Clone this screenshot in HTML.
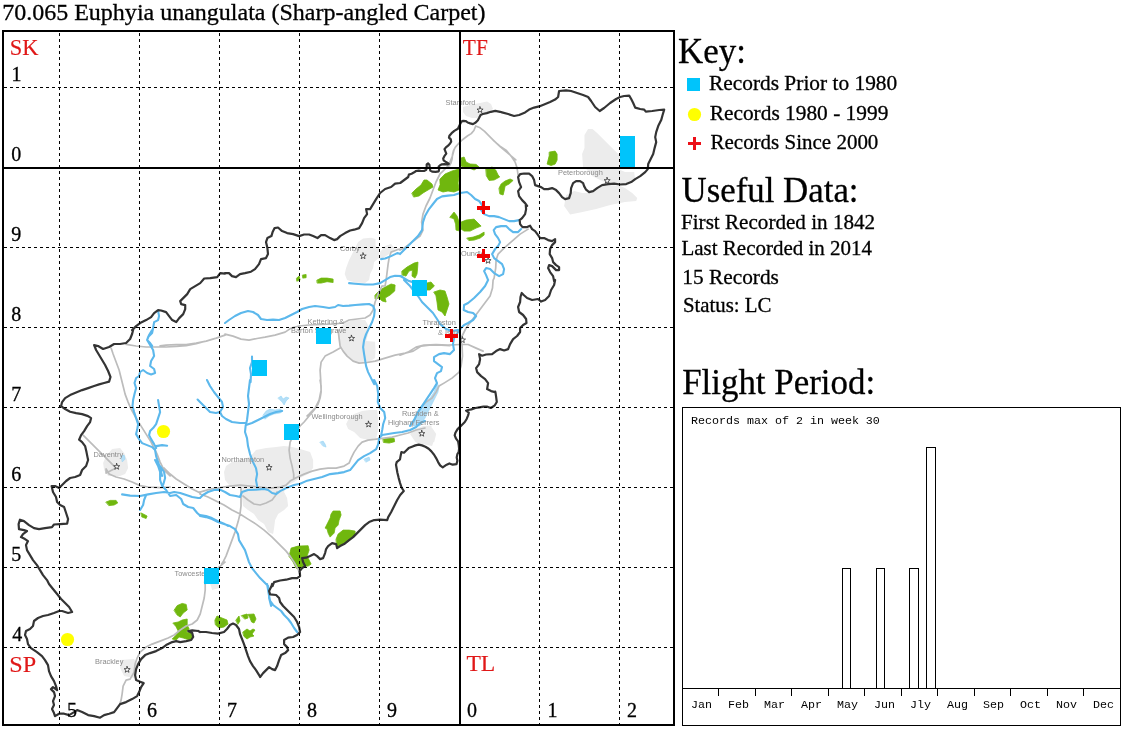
<!DOCTYPE html>
<html>
<head>
<meta charset="utf-8">
<title>70.065 Euphyia unangulata (Sharp-angled Carpet)</title>
<style>
html,body{margin:0;padding:0;background:#fff;}
body{width:1124px;height:730px;overflow:hidden;}
svg{display:block;position:absolute;left:0;top:0;}
text{white-space:pre;}
</style>
</head>
<body>
<svg width="1124" height="730" viewBox="0 0 1124 730">
<rect width="1124" height="730" fill="#fff"/>
<g id="geo" fill="none" stroke-linejoin="round" stroke-linecap="round">
<path fill="#ececec" stroke="none" d="M463 107 L470 105 L480 103 L487 101.6 L491 104 L493 109 L488 112 L482 115 L478 118.1 L472 118.1 L466 116 L463 112.0ZM584.5 135.1 L588.1 129.1 L592.5 129.1 L597.1 133.1 L602.1 138.1 L608.1 144.1 L614.1 150.1 L620.1 155.7 L620.1 167.7 L583.1 167.7 L582.1 154.1 L584.5 148.1ZM346.1 268.1 L349.1 260.1 L353.1 252.1 L358.1 242.1 L363.1 238.5 L371.1 237.7 L375.5 239.1 L375.5 246.1 L379.1 249.1 L379.1 258.1 L374.1 262.1 L373.1 268.1 L370.1 274.1 L369.1 280.1 L365.1 283.1 L355.1 282.5 L347.1 280.1 L344.7 274.1ZM380.1 252.1 L385.1 246.1 L391.1 244.1 L395.1 249.1 L389.1 254.1 L383.1 258.1 L380.1 258.1ZM566.1 195 L574.2 191 L582.2 193 L590.2 193 L600.2 187 L608.2 185 L620.2 186 L625 188 L632.2 193 L637.2 198 L636.2 201 L625 202 L610.2 205 L596.2 209.1 L580.2 212.5 L570.1 214.5 L564.1 206.0ZM586.2 169 L618.2 169 L625 172 L634.2 172 L635.2 180 L625 184 L608.2 184 L600.2 180 L592.2 176.0ZM339.1 328.1 L345.1 323 L353.1 320 L365.1 320 L369.1 327.1 L368.1 334.1 L366.1 341.1 L375.1 341.7 L375.5 350.1 L375.1 358.1 L369.1 362.1 L359.1 363.1 L351.1 360.1 L345.1 354.1 L341.1 348.1 L338.1 338.1ZM103.1 463.1 L106.1 456.1 L112.1 449.1 L120.1 448.1 L124.1 453.1 L127.1 460.1 L128.1 468.1 L125.1 474.1 L120.1 475.9 L108.1 475.9 L104.1 470.1ZM210.2 584.1 L218.2 583.1 L219.2 588.1 L212.2 590.1ZM120.1 660.1 L134.1 659.1 L137.1 664.1 L136.1 670.1 L134.1 678.1 L124.1 676.1 L120.1 668.1ZM224 472 L226 466 L232 462 L240 460 L312.1 460 L313.1 468 L308.1 474 L300.1 478 L294.1 482 L286.1 486 L284.1 492 L287.1 498 L288.1 506 L284.1 510 L278.1 514 L275.1 520.1 L274.1 528.1 L273.1 534.1 L268.1 532.1 L264.1 524.1 L258.1 520.1 L254 514 L248 510 L243 506 L242 498 L240 488 L230 486 L225 480.0ZM224 472.1 L226 466.1 L232 462.1 L240 460.1 L250 457.1 L256 450.1 L266.1 448.1 L276.1 447.1 L284.1 446.1 L292.1 447.1 L300.1 449.1 L310.1 452.1 L313.1 460.1 L313.1 468.1 L308.1 474.1 L300.1 478.1 L294.1 482.1 L286.1 486.1 L284.1 492.1 L260.1 492.1 L240 488.1 L230 486.1 L225 480.1ZM346.1 424 L349.1 418 L354.1 414 L362.1 411 L370.1 410 L377.2 410 L378.2 420 L378.2 430 L376.2 438.1 L368.1 440.1 L360.1 438.1 L354.1 432 L348.1 429.0ZM416.2 436 L419.2 430 L425 427 L432.2 428 L436.2 434 L434.2 442.1 L425 444.1 L418.2 442.1ZM410 434 L415.4 428.7 L423.4 426 L431.4 425.4 L432.7 434 L433.4 442 L432.1 446.1 L426.1 444.7 L419.4 444.1 L415.4 442.0Z"/>
<path fill="#b4dff8" stroke="#8fd0f3" stroke-width="0.5" d="M437 384.1 L434 392.1 L430 398.1 L424 404.1 L419 410.1 L415 420.1 L412 425.9 L420 425.9 L425 418.1 L430 408.1 L434 400.1 L438 392.1 L439 386.1ZM121.1 456.1 L124.1 455.1 L125.1 459.1 L122.5 461.7ZM263.1 415 L266.1 411 L270.1 409 L275.1 410 L280.1 409 L283.1 411 L280.1 413 L274.1 414 L269.1 416 L265.1 419.0ZM278.1 398 L281.1 396 L283.1 399 L286.1 397 L289.1 398 L286.1 401 L284.1 405 L282.1 402.0ZM320.1 442.1 L323.1 441.1 L325.1 444.1 L326.1 447.1 L323.1 446.1ZM364.1 459.1 L369.1 457.1 L370.1 460.1 L366.1 462.1Z"/>
<path fill="#70b70e" stroke="#70b70e" stroke-width="0.8" d="M549.5 152.1 L555.1 151.1 L557.1 154.1 L557.1 160.1 L555.1 164.1 L551.1 165.5 L547.1 164.1 L548.1 160.1 L549.1 156.1ZM317.1 280.1 L321.1 278.1 L327.1 278.1 L333.1 279.1 L333.1 282.5 L327.1 281.7 L321.1 283.1 L317.5 283.1ZM296.7 278.1 L299.1 276.1 L300.1 280.1 L297.1 281.1ZM302.7 275.1 L306.1 274.5 L306.1 277.7 L303.1 278.1ZM461.1 158 L464.1 157 L466.1 162 L470.1 164 L476.1 164.4 L479.1 167 L474.1 170 L469.1 168 L464.1 167 L461.1 166.0ZM486.1 169 L492.1 167 L495.7 170 L498.1 175 L499.7 177 L494.1 180 L489.1 180.4 L486.5 176.0ZM499.1 188 L501.1 184 L505.1 181 L510.1 179 L513.1 180.4 L509.1 184 L505.1 186 L504.1 191 L503.1 195 L500.1 194.0ZM440 179 L445 174 L452 171 L459.1 169 L459.1 176 L458.1 183 L459.1 190 L454 192 L448 191 L443 192 L438 190 L440 185.0ZM412 193 L416 189 L421 185 L424 180 L427 180 L432 184 L433 187 L428 190 L423 193 L419 196 L414 197.0ZM450 217.1 L454 212.1 L457.1 216.1 L459.1 222.1 L460.1 226.1 L460.1 231.1 L456 230.1 L455.6 224.1 L454 219.1ZM461.1 222.1 L466.1 220.1 L474.1 219.1 L477.1 222.1 L481.1 226.1 L476.1 228.1 L470.1 231.1 L464.1 231.1 L461.1 229.1ZM467.1 238.1 L473.1 237.1 L479.1 235.1 L484.1 232.1 L484.1 235.1 L480.1 238.1 L474.1 240.1 L469.1 240.5ZM402 271.1 L407 267.1 L414 263.1 L418 262.1 L417.6 268.1 L417 274.1 L415 278.1 L412 276.1 L412.4 270.1 L409 271.1 L406 276.1 L402.4 275.1ZM427 283 L431 282 L434.4 286 L430 290 L427 290.0ZM434 292 L440 290 L445 291 L447 297 L449 304 L447 310 L445 316 L442 312 L438 310 L437 302 L436 296.0ZM375.1 295 L380.1 290 L385.1 287 L391.1 284 L395.1 285 L394.7 291 L390.1 295 L385.1 298 L386.1 302 L382.1 301 L379.1 298 L375.5 299.0ZM106.1 502 L110.1 500.4 L116.1 500.4 L117.7 503 L114.1 505 L109.1 505.6ZM141.1 513 L144.1 514.4 L147.1 516 L146.1 518.5 L142.1 517.1ZM174.2 610 L177.2 605.6 L182.2 603.4 L186.2 604.4 L187.2 610 L183.2 613 L180.2 617 L177.2 615.0ZM173.2 623 L178.2 622 L182.2 620 L187.2 619 L187.2 625 L189.2 629 L186.2 632 L191.2 633 L193.2 637 L191.2 640 L186.2 639 L183.2 638 L179.2 637 L176.2 640 L172.2 639 L176.2 635 L178.2 631 L176.2 627.0ZM215 620 L217 616 L222 618 L227 620 L228 624 L224 627 L219 628 L215.6 625.0ZM236 620 L239 616 L240 621 L238 624.0ZM241.6 615.6 L247 614 L248 618 L245 619.0ZM248 614.4 L254 614 L256 619 L254 623 L251.6 622 L250 618.0ZM243 632 L247 629 L250 631 L253 629 L255 630 L252 634 L254 636 L250 637 L247 639 L244 636.4ZM331.1 514 L333.1 511 L340.1 511 L341.1 515 L339.1 520.1 L338.1 525.1 L335.1 528.1 L334.1 533.1 L330.1 537.1 L328.1 533.1 L327.1 529.1 L325.1 528.1 L328.1 522.1 L330.1 518.1ZM336.1 539.1 L338.1 534.1 L343.1 530.1 L349.1 530.1 L355.1 531.1 L355.1 535.1 L351.1 539.1 L347.1 542.1 L343.1 544.1 L340.1 546.1 L337.1 547.1ZM289.1 556.1 L291.1 548.1 L298.1 546.1 L308.1 545.7 L309.1 550.1 L307.1 556.1 L309.1 560.1 L311.1 564.1 L308.1 566.1 L304.1 566.1 L300.1 569.1 L296.1 568.1 L293.1 562.1ZM383.2 439.1 L388.2 437.7 L394.2 438.5 L394.6 441.7 L389.2 443.1 L383.8 442.5Z"/>
<path stroke="#bcbcbc" stroke-width="1.7" d="M493 140.1 L500 146.1 L506 150.1 L511.1 156.1 L515.1 162.1 L517.1 168.1 L518.1 175.1M400.2 249.1 L397.2 249.7 L391.1 252.1 L389.1 258.1 L388.1 264.1 L387.1 272.1 L386.1 280.1 L385.1 285.9M454 150 L452.4 156 L450 162 L447 167 L440 174 L436 182 L433 190 L430 198 L426 206 L423 214.1 L421.6 222.1 L423 230.1 L420 236.1 L412 242.1 L404 248.1 L400 250.1M528.1 229.1 L520.1 234.1 L512.1 241.1 L504.1 248.1 L498.1 254.1 L496.1 260.1 L495.7 268.1 L494.1 278.1 L493.1 280.1M493.1 280 L492.5 288 L490.1 296 L484.1 304 L478.1 312 L472.1 320 L466.1 328 L462.1 336 L460.1 340.1M400 355.1 L408 352.1 L416 347.1 L424 345.1 L436 344.5 L448 345.1 L460.1 344.5 L468.1 344.5 L476.1 348.1 L483.1 351.1M461.1 340.1 L462.1 346.1 L462.5 356.1 L461.1 366.1 L459.1 372.1 L452 378.1 L444 383.1 L439 386.1 L436 392.1 L432 398.1 L426 402.1 L420 408.1 L416 416.1 L412 425.9M225 334.1 L233 336.1 L241 339.1 L249 340.1 L257 338.5 L265 337.1 L275 335.1 L285.1 332.1 L291.1 328.1 L299.1 326 L309.1 325 L321.1 324.4 L333.1 324 L343.1 323 L349.1 320 L357.1 319 L365.1 318 L370.1 315 L373.1 310 L375.1 302 L378.1 294 L382.1 286.0M338.1 330.1 L339.1 338.1 L340.1 346.1 L343.1 351.1 L347.1 356.1 L353.1 361.1 L359.1 363.1 L367.1 362.5 L375.1 361.1 L385.1 358.1 L395.1 355.1 L405.2 353.1 L413.2 351.1 L421.2 346.1 L429.2 345.1 L441.2 345.1 L450 345.7M340.1 348.1 L333.1 352.1 L325.1 356.1 L321.1 362.1 L320.1 370.1 L320.7 380.1 L321.1 390.1 L319.1 400.1 L315.1 408.1 L309.1 414.1 L307.1 415.9M225 335.1 L216.2 338.1 L206.2 341.1 L196.2 343.1 L186.2 344.5 L176.2 344.5 L166.1 345.1 L160.1 345.9M225 335 L216.2 338 L206.2 341 L196.2 343.6 L186.2 345.6 L176.2 346.4 L166.1 347 L156.1 347 L146.1 347 L136.1 346 L126.1 344.4M111.1 348 L113.1 354 L116.1 362 L119.1 370 L121.1 378 L123.1 386 L125.1 394.1 L128.1 402.1 L131.1 409.1 L136.1 418.1 L141.1 426.1 L146.1 434.1 L151.1 442.1 L154.1 448.1 L157.1 454.1 L160.1 462.1 L164.1 470.1 L170.1 475.9M83.1 435.1 L88.1 440.1 L94.1 446.1 L100.1 452.1 L106.1 458.1 L112.1 464.1 L116.1 468.1 L112.1 470.1 L106.1 473.1M106.1 469 L109.1 474 L116.1 477 L124.1 479 L132.1 482 L140.1 485.6 L148.1 487 L160.1 487.6 L170.1 487.0M164.1 468 L170.1 474 L176.2 479 L184.2 484 L192.2 489 L200.2 493.0M225 562.1 L220.2 566.1 L212.2 572.1 L206.2 578.1 L204.6 582.1 L205.2 585.1M205.2 584 L205.2 590 L204.2 598 L202.2 606 L200.2 614 L197.2 620 L192.2 624 L186.2 626 L180.2 630 L174.2 635 L168.1 638 L160.1 641.1 L152.1 644.1 L146.1 647.1 L140.1 652.1 L137.1 658.1 L135.1 664.1 L134.1 672.1 L130.1 679.1 L126.1 680.1 L123.1 686.1 L122.1 694.1 L121.1 700.1 L119.7 704.1M200 494 L208 497 L216 501 L224 505 L232 510 L240 514 L248 519.1 L256 524.1 L264.1 530.1 L272.1 537.1 L280.1 545.1 L286.1 551.1 L290.1 556.1 L294.1 562.1 L298.1 569.1 L300.1 575.1M241 488 L241 496 L241 506 L240 514 L238 522.1 L235 532.1 L232 540.1 L229 548.1 L226 556.1 L223 562.1 L221.6 564.1M243 496 L248 500 L254 504 L260.1 505 L266.1 503 L272.1 500 L275.1 496 L277.1 492.0M320.1 380 L321.1 386 L321.1 392 L320.1 398 L318.1 404 L314.1 410 L309.1 416 L304.1 422 L300.1 426 L294.1 434 L290.1 442.1 L289.1 450.1 L290.1 458.1 L292.1 466.1 L293.7 474.1 L293.7 478.1M425 428 L416.2 430 L408.2 433 L400.2 435 L392.2 437.1 L384.2 438.1 L376.2 439.1 L368.1 440.1 L362.1 442.1 L358.1 446.1 L354.1 452.1 L351.1 458.1 L349.1 463.1 L344.1 466.1 L336.1 468.1 L328.1 468.1 L320.1 469.1 L312.1 471.1 L304.1 474.1 L296.1 477.7 L290.1 481.1 L286.1 485.1 L280.1 487.1 L270.1 488.1 L260.1 487.1 L250 486.1 L240 485.1 L230 486.1 L220 487.7 L210 489.1 L200 492.1M475.7 126 L473.9 130.5 L471.2 133.6 L467.7 135.8 L464.1 138.5 L461.4 140.7 L457.9 144.3 L455.2 147.4 L453.4 151 L452.5 154.5 L452.1 159 L450.8 163.4 L449.4 165.7 L447 167 L442.7 171.4 L440 173.9M475.7 126 L480.1 127.8 L484.6 131.4 L489 135.8 L493.5 140.3 L498 144.7 L500.1 146.5 L515.8 159.9M400.2 249.1 L400 250.1M385.1 285.9 L382.1 286.0M493.1 280.1 L493.1 280.0M460.1 340.1 L461.1 340.1M225 334.1 L225 335.1M225 334.1 L225 335.0M225 335.1 L225 335.0M106.1 473.1 L106.1 469.0M200.2 493 L200 494.0M200.2 493 L200 492.1M225 562.1 L221.6 564.1M205.2 585.1 L205.2 584.0M200 494 L200 492.1"/>
<path stroke="#5cb8ec" stroke-width="2.1" d="M400.2 253.7 L397.2 253.1 L391.1 256.1 L385.1 258.5 L381.1 259.1M349.1 283.1 L355.1 283.7 L365.1 284.5 L373.1 284.5 L380.1 283.1 L385.1 280.1 L390.1 277.1 L395.1 275.7 L401.2 276.1 L405.2 279.1 L409.2 281.1 L413.2 282.1M400 254.1 L406 248.1 L412 242.1 L418 236.1 L422 230.1 L423 222.1 L425 216.1 L429 209.1 L433 204 L437 199 L442 196.4 L448 195.6 L454 195 L460.1 193 L467.1 192 L471.1 195 L475.1 199 L479.1 201 L482.1 205 L481.1 210.1 L484.1 214.1 L489.1 216.1 L494.1 216.1 L499.1 217.1 L504.1 219.1 L509.1 221.1 L514.1 221.1 L519.1 220.1M521.1 229.1 L518.1 232.1 L513.1 232.1 L509.1 229.1 L506.1 226.1 L501.1 226.1 L496.1 227.1 L493.7 230.1 L495.1 234.1 L498.1 238.1 L500.1 242.1 L498.1 246.1 L495.1 249.1 L492.1 254.1 L494.1 258.1 L498.1 261.1 L502.1 264.1 L504.1 269.1 L503.1 274.1 L499.1 276.1 L494.1 273.1 L490.1 269.1 L486.1 268.1 L484.1 271.1 L486.1 275.1 L488.1 280.1M400 276.1 L404 278.1 L409 281.1 L412 282.1M488.1 280 L485.1 286 L480.1 292 L474.1 298 L468.1 303 L464.1 305 L463.7 310 L468.1 312 L473.1 313 L476.1 316 L473.1 320 L468.1 323 L464.1 325 L461.1 328 L458.1 332 L454 338.1 L453 344.1 L454 350.1 L450 354.1 L444 353.1 L439 354.1 L434 357.1 L434 361.1 L438 364.1 L442 367.1 L441 371.1 L437 373.1 L435 378.1 L437 383.1 L434 388.1 L430 394.1 L426 400.1 L422 406.1 L418 412.1 L414 420.1 L410 425.9M404 280 L410 286 L418 296 L422 302 L428 308 L433 313 L437 319 L440 324 L446 329 L452 331 L458.1 330.0M225 323 L229 320 L235 316 L241 313 L248 311 L253 312 L258 315 L261 319 L267 320 L273 319.6 L279 320 L285.1 318 L291.1 315 L297.1 312 L302.1 309 L309.1 307 L315.1 306 L323.1 307 L329.1 308 L335.1 307 L338.1 305 L343.1 306 L349.1 305.6 L355.1 305 L363.1 304.4 L369.1 304 L373.1 306 L374.7 310 L374.1 316 L372.1 322 L369.1 328.1 L366.1 334.1 L364.1 340.1 L363.1 347.1 L364.1 354.1 L365.1 360.1 L366.1 366.1 L368.1 372.1 L371.1 378.1 L374.1 384.1M252 356.5 L252 362.1 L250 368.1 L251 374.1 L250.6 382.1M158.1 311.1 L159.1 316.1 L158.1 320.1 L154.1 322.1 L153.1 328.1 L152.1 333.1 L148.1 337.1 L147.1 340.1 L150.1 343.1 L152.1 345.9M152.1 330 L149.1 335 L147.1 340 L150.1 345 L153.1 350 L154.1 356 L151.1 361 L150.1 366 L154.1 369 L155.1 373 L151.1 374.4 L147.1 373 L143.1 370 L140.1 372 L139.1 376 L136.1 378 L134.5 383 L136.1 388.1 L134.5 394.1 L133.1 400.1 L132.5 406.1 L134.1 412.1 L136.1 418.1 L138.1 424.1 L137.1 430.1 L136.1 434.1 L139.1 439.1 L142.1 443.1 L147.1 445.1 L152.1 447.1 L155.1 450.1 L156.1 456.1 L158.1 462.1 L160.1 468.1 L162.1 475.9M158.1 400.1 L159.1 406.1 L160.1 412.1 L158.1 418.1 L156.1 424.1 L153.1 428.1 L150.1 431.1 L149.1 435.1 L151.1 439.1 L154.1 444.1 L156.1 448.1M156.1 446.1 L162.1 445.1 L167.1 445.7M122.1 494.4 L130.1 495.6 L140.1 496 L148.1 494.4 L156.1 493 L164.1 492 L170.1 493 L174.2 492 L180.2 493 L186.2 495 L192.2 497 L198.2 498 L200.2 498.0M166.1 490 L170.1 496 L176.2 495 L181.2 499 L183.2 504 L188.2 507 L193.2 508 L197.2 513 L200.2 515.6M146.1 495 L144.1 500 L143.1 505 L140.1 510.0M155.1 460 L158.1 466 L160.1 472 L160.1 480 L162.1 486 L166.1 490.0M160.1 466 L164.1 472 L165.1 478 L163.1 485.0M267.1 584 L268.1 590 L269.1 596 L270.1 601 L273.1 605 L277.1 608 L281.1 611 L284.1 615 L288.1 619 L291.1 623 L294.1 628 L297.1 632.0M200 498 L203 495 L208 492 L214 490 L220 489.6 L225 492 L230 495 L236 496 L240 497 L242 492 L248 490 L256 489.6 L264.1 489 L268.1 490 L272.1 493 L276.1 494.0M200 516 L206 517.1 L212 519.1 L218 522.1 L224 524.1 L230 526.1 L235 529.1 L238 534.1 L239 540.1 L242 545.1 L245 550.1 L247 556.1 L249 562.1 L252 568.1 L256 573.1 L260.1 578.1 L264.1 582.1 L268.1 586.1 L269.1 592.1 L269.1 598.1 L271.1 605.9M425 421 L420.2 423 L416.2 427 L410.2 430 L402.2 432 L394.2 433 L388.2 434 L382.2 435 L379.2 438.1 L378.2 444.1 L376.2 449.1 L370.1 453.1 L364.1 456.1 L358.1 460.1 L354.1 465.1 L350.1 470.1 L344.1 472.1 L338.1 473.1 L330.1 474.1 L322.1 477.1 L314.1 479.1 L306.1 481.1 L300.1 483.7 L294.1 485.1 L286.1 488.1 L280.1 491.1 L276.1 494.1M374.2 380 L377.2 386 L378.2 394 L377.8 402 L380.2 408 L384.2 412 L385.2 418 L383.2 424 L382.2 430 L381.2 435.0M250 380 L249 388 L248 396 L249 404 L248 412 L247 420 L245.6 426 L245 432 L247 438.1 L248 446.1 L250 454.1 L253 462.1 L256 468.1 L257.1 474.1 L256 480.1 L257.1 486.1M197.6 399.6 L200 402 L206 408 L210 412 L216 413 L220 412 L222 416 L226 419 L232 422 L240 423 L246 423.0M207 380 L210 386 L214 392 L218 397 L222 402 L223 407 L220 412.0M246 425 L252 423 L258.1 420 L264.1 417 L270.1 414 L276.1 412 L282.1 411.0M200 515.1 L206 516.1 L212 518.1 L218 521.1 L224 523.7 L228 525.9M400.2 253.7 L400 254.1M413.2 282.1 L412 282.1M488.1 280.1 L488.1 280.0M374.1 384.1 L374.2 380.0M250.6 382.1 L250 380.0M156.1 448.1 L156.1 446.1M200.2 498 L200 498.0M200.2 515.6 L200 516.0M200.2 515.6 L200 515.1M276.1 494 L276.1 494.1M200 516 L200 515.1M246 423 L246 425.0"/>
<path stroke="#343434" stroke-width="2.2" d="M502 112.4 L508.1 114 L514.1 116 L519.1 115 L525.1 112.4 L529.1 109.6 L534.1 107.6 L539.1 106.4 L544.1 104.4 L550.1 102 L555.1 99.6 L558.1 97 L559.1 91 L566.1 90.4 L571.1 91 L577.1 93 L583.1 95 L588.1 97 L591.1 101 L595.1 107 L599.7 111 L604.1 108 L610.1 103 L616.1 99 L620.1 97 L624.2 96 L629.2 95.6 L631.2 99 L633.2 103 L635.2 107.6 L640.2 109 L644.2 109.6 L645.8 111.6 L652.2 111 L659.2 110 L664.2 109.6 L662.6 115 L661.2 120.1 L658.2 126.1 L656.2 132.1 L655.2 137.1 L656.2 142.1 L654.6 148.1 L653.2 154.1 L650.2 160.1 L648.2 164.1 L647.8 169.1 L645.2 172.1 L640.2 176.1 L635.2 179.1 L631.2 182.1 L626.2 184.1 L620.1 184.5 L614.1 183.7 L608.1 184.1 L602.1 185.1 L597.1 188.1 L593.1 191.1 L589.1 192.1 L586.1 189.7 L584.1 186.1 L583.1 183.1 L580.1 181.1 L576.1 181.1 L573.1 183.1 L571.1 188.1 L570.7 193.1 L569.1 198.1 L565.1 199.1 L562.1 197.1 L559.1 193.1 L556.1 190.1 L552.1 188.1 L548.1 189.1 L544.1 189.1 L541.1 187.1 L538.1 186.1 L535.1 185.1 L534.1 180.1 L532.1 176.1 L529.1 173.7 L524.1 173.5 L520.1 174.1 L518.1 177.1 L519.1 182.1 L521.1 187.1 L518.1 191.1 L519.1 196.1 L522.1 200.1 L525.1 203.1 L527.1 205.9M408.2 177 L404.2 180 L400.2 183 L395.1 183.6 L391.1 187 L385.1 189 L380.1 193 L376.1 199.1 L373.1 204.1 L370.1 209.1 L366.1 209.1 L367.1 214.1 L364.1 218.1 L362.1 223.1 L359.1 228.1 L354.1 229.7 L350.1 230.5 L345.1 233.1 L340.1 236.1 L337.1 239.1 L334.1 240.1 L330.1 238.1 L325.1 235.1 L321.1 235.1 L317.5 238.1 L313.1 236.1 L309.1 234.5 L304.1 234.5 L299.1 236.1 L293.1 234.1 L287.1 233.1 L282.1 231.1 L278 227.5 L274.6 228.1 L272.6 232.1 L271.4 236.1 L267.4 238.1 L266 242.1 L267.4 248.1 L268 254.1 L266 258.1 L261 259.1 L259 264.1 L255 269.1 L251 271.7 L245 273.1 L240 274.1 L236 277.1 L232 276.1 L229 273.1 L225 273.1M525.7 204 L526.1 209.1 L525.1 214.1 L522.1 218.1 L519.7 220.1 L520.1 224.1 L522.5 227.1 L527.1 227.1 L530.1 225.7 L532.1 229.1 L535.1 231.1 L538.1 235.1 L540.1 238.1 L544.1 238.1 L548.1 240.1 L552.1 241.1 L555.1 239.1 L555.1 242.1 L552.1 245.1 L550.1 249.1 L549.7 254.1 L552.1 258.1 L553.1 262.1 L556.1 265.1 L559.1 267.1 L559.1 270.1 L556.1 270.1 L552.1 266.1 L549.1 265.1 L548.1 268.1 L550.1 272.1 L553.1 276.1 L554.1 281.1M555.1 280 L554.1 285 L551.1 290 L549.1 296 L545.1 300 L541.1 301.6 L538.1 299 L532.1 300 L527.1 298 L523.7 295 L521.7 293 L520.5 297 L520.1 302 L518.1 307 L519.1 312 L523.1 315 L526.1 319 L526.5 323 L523.1 325 L520.1 328 L520.1 332 L517.1 336 L513.1 339.1 L510.1 344.1 L508.1 349.1 L504.1 350.5 L500.1 349.1 L496.1 351.1 L492.1 354.1 L486.1 354.5 L482.1 355.7 L479.1 354.1 L480.1 359.1 L479.1 364.1 L476.1 368.1 L477.1 372.1 L481.1 376.1 L485.1 379.1 L488.1 383.1 L487.1 389.1 L491.1 391.1 L495.1 392.1M225 273.7 L220.2 273.1 L217.2 277.1 L210.2 278.1 L204.2 278.5 L200.2 283.1 L195.2 286.1 L190.2 289.1 L187.2 294.1 L183.2 298.1 L180.2 301.1 L181.2 304.1 L185.2 305.1 L185.2 309.1 L183.2 314.1 L179.2 318.1 L176.2 322.1 L172.2 320.1 L169.1 316.1 L166.1 312.1 L161.1 310.5 L158.1 310.1 L154.1 313.1 L151.1 317.1 L146.1 320.1 L140.1 323.1 L136.1 326.1 L132.1 330.1M133.1 330 L132.1 334 L130.1 339 L126.1 343 L120.1 344 L114.1 344 L109.1 347 L103.1 349 L98.1 346 L94.1 345 L96.1 350 L99.1 355 L102.1 360 L105.1 365 L108.1 371 L110.5 377 L109.1 381.6 L104.1 383 L99.1 384.4 L94.1 386 L88.1 388.1 L82.1 390.1 L76.1 392.5 L70.1 395.1 L65.1 398.1 L62.1 402.1 L61.1 406.1 L65.1 409.1 L70.1 411.7 L76.1 413.1 L82.1 414.1 L88.1 416.1 L91.1 418.1 L90.1 422.1 L87.1 426.1 L84.1 431.1 L81.1 435.1 L79.1 439.7 L82.1 442.1 L85.1 446.1 L86.5 452.1 L87.7 458.1M88.1 460 L86.1 466 L82.1 470 L80.1 475 L75.1 477 L70.1 478 L66.1 481 L62.1 485 L59.1 488 L55 486 L51.6 486 L53 492 L56 497 L57.1 502 L60.1 505 L64.1 507 L66.1 513 L68.1 519.1 L67.1 523.7 L60.1 524.1 L54 524.5 L52 527.1 L45 528.1 L39 529.1 L34 528.1 L29 525.1 L24 521.1 L20 519.7 L18.6 524.1 L19 529.1 L24 530.1 L27 531.1 L23 534.1 L21 537.1 L25 539.1 L28 541.1 L26 545.1 L27 550.1 L30 555.1 L33 560.1 L37 565.1 L40 570.1 L43 575.1 L47 580.1M49 584 L53 589 L57.1 594 L61.1 599 L65.1 603 L69.1 607 L72.1 612 L68.1 613 L62.1 611 L59.1 611 L54 613 L48 615 L43 616 L38 618 L34 621 L33 626 L30 629 L26 631 L25 635 L27 639 L28 644.1 L31 648.1 L37 652.1 L42 656.1 L45 660.1 L48 665.1 L49 671.1 L51 676.1 L54 681.1 L56 686.1 L57.1 690.1 L53 687.1 L51 689.1 L54 692.1 L55 696.1 L53 701.1 L54 705.1 L52 709.1 L54 713.1 L55 716.1 L59.1 713.7 L64.1 713.7 L69.1 715.1 L74.1 712.1 L77.1 710.1 L82.1 712.1 L88.1 715.1 L94.1 716.1 L100.1 717.7 L104.1 715.1 L109.1 713.7 L114.1 712.1 L117.1 708.1 L120.1 704.1 L126.1 702.1 L132.1 699.1 L137.1 696.1 L139.1 692.1 L141.1 687.1 L143.7 683.1 L140.1 681.7 L136.1 680.1 L135.1 675.1 L136.1 669.1 L138.1 664.1 L141.1 659.1 L145.1 655.1 L150.1 653.1 L156.1 651.1 L162.1 648.1 L166.1 645.1 L172.2 642.1 L176.2 641.1 L180.2 642.1 L186.2 641.1 L191.2 640 L193.2 637 L192.2 633 L188.2 631 L192.2 630.4 L198.2 631.0M200 632 L206 632 L212 633 L218 633.6 L224 632 L227 629 L230 625 L233 623.6 L236 625 L239 629 L240 634 L242 639 L244 644.1 L246 650.1 L248 656.1 L250 661.1 L253 666.1 L256 670.1 L259.1 675.1 L260.1 677.1 L263.1 673.1 L266.1 670.1 L269.1 667.1 L272.1 669.1 L275.1 670.1 L277.1 666.1 L279.1 660.1 L281.1 655.1 L285.1 653.1 L288.1 650.1 L287.1 647.1 L284.1 644.1 L284.1 640 L288.1 637.6 L293.1 637 L297.1 635 L300.1 632 L299.1 627 L297.1 622 L294.1 617 L291.1 614 L287.1 610 L283.1 606 L280.1 602 L279.1 598 L276.1 595 L270.1 594.4 L269.1 591 L271.1 587 L272.1 584.0M401.2 487 L403.8 491 L400.2 495 L397.2 500 L394.2 506 L391.2 512 L388.2 517.1 L387.2 520.1 L380.2 519.7 L374.2 520.1 L369.1 522.1 L365.1 525.1 L361.1 529.1 L357.1 533.1 L353.1 537.1 L349.1 540.1 L344.1 544.1 L340.1 546.1 L337.1 548.1 L336.1 544.1 L332.1 543.1 L328.1 546.1 L326.1 549.1 L325.1 553.1 L323.1 558.1 L320.1 559.1 L317.1 556.1 L314.1 554.1 L310.1 556.1 L306.1 557.7 L302.1 558.1 L303.1 562.1 L305.1 566.1 L302.1 568.1 L299.7 571.1 L300.1 576.1 L297.1 578.1 L292.1 578.1 L286.1 579.7 L280.1 580.5 L274.1 582.1 L272.5 586.1M495.2 391.6 L495.5 392.7 L496.1 396.7 L496.8 402 L494.8 405.3 L490.8 408 L487.4 406.7 L483.4 406.7 L479.4 407.3 L475.4 408 L471.4 409.4 L468.1 410 L466.1 410.7 L468.8 412.7 L468.1 415.4 L466.8 418.7 L464.8 422 L462.1 424.7 L459.4 427.4 L457.4 429.4 L455.4 432.7 L454.7 435.4 L456.1 438.7 L458.1 441.4 L458.7 444.7 L459.1 448.7 L458.7 452.1 L457.4 454.1 L456.7 457.4 L457.4 460.7 L456.5 464.1 L452.7 464.7 L449.4 463.4 L446.7 464.7 L442.7 467.4 L440.1 465.4 L438.1 462.1 L436.1 458.1 L434.1 454.7 L431.4 451.4 L428.7 448.7 L425.4 446.7 L422 445.4 L418.7 444.7 L415.4 445.4 L412 446.7 L408.7 448.1 L406 450.7 L404 452.7 L401.4 452.1 L400.7 455.4 L400 459.4 L396.7 462.1 L396 464.7 L396.7 468.7 L397.4 472.7 L398.7 478.1 L400 482.8 L401.4 487.0M500.1 111.8 L495.3 110.9 L490.8 111.8 L486.8 113.1 L482.8 114 L480.6 114.9 L479.3 117.6 L477.9 120.2 L475.7 122.5 L473 124.1 L470.3 123.4 L467.7 122.5 L465.9 121.1 L463.2 120.9 L461.4 121.6 L457.9 128.7 L454.3 130.9 L451.6 133.2 L449.4 135.8 L449 137.6 L450.8 139.4 L451.2 141.6 L449.9 143.8 L448.1 145.6 L445.9 147.4 L444.5 149.2 L445.4 151.4 L446.3 153.6 L444.5 155.9 L443.2 158.5 L443.6 160.3 L445.4 161.6 L447.6 163 L448.8 163.9 L447.2 164.5 L444.5 164.1 L441.9 164.3 L440.1 165.2 L438.7 166.5 L439.2 168.8 L438.7 171.4 L435.6 171.9 L432.1 171.6 L430.3 170.6 L429.8 167.9 L429.4 164.8 L428 163.4 L426.7 164.3 L426.7 167 L426.3 169.7 L424 171 L421.4 171 L418.7 170.6 L416 171 L414.2 172.3 L411.6 173.7 L408.9 174.6M502 112.4 L500.1 111.8M527.1 205.9 L525.7 204.0M408.2 177 L408.9 174.6M225 273.1 L225 273.7M554.1 281.1 L555.1 280.0M495.1 392.1 L495.2 391.6M132.1 330.1 L133.1 330.0M87.7 458.1 L88.1 460.0M47 580.1 L49 584.0M198.2 631 L200 632.0M272.1 584 L272.5 586.1M401.2 487 L401.4 487.0"/>
<path stroke="#333" stroke-width="0.8" fill="#fff" d="M480 106.8 L480.8 109 L483.1 109.1 L481.3 110.4 L481.9 112.6 L480 111.3 L478.1 112.6 L478.8 110.4 L477 109.1 L479.3 109.0ZM607.1 177.5 L607.9 179.7 L610.2 179.7 L608.4 181.1 L609 183.3 L607.1 182 L605.3 183.3 L605.9 181.1 L604.1 179.7 L606.4 179.7ZM363.1 252.9 L363.9 255.1 L366.2 255.1 L364.4 256.5 L365 258.7 L363.1 257.4 L361.2 258.7 L361.9 256.5 L360.1 255.1 L362.4 255.1ZM488.1 257.5 L488.8 259.6 L491.1 259.7 L489.3 261.1 L490 263.3 L488.1 262 L486.2 263.3 L486.8 261.1 L485 259.7 L487.3 259.6ZM462.5 336.9 L463.2 339 L465.5 339.1 L463.7 340.5 L464.3 342.6 L462.5 341.4 L460.6 342.6 L461.2 340.5 L459.4 339.1 L461.7 339.0ZM351.5 335.3 L352.3 337.4 L354.6 337.5 L352.7 338.9 L353.4 341 L351.5 339.8 L349.6 341 L350.3 338.9 L348.5 337.5 L350.7 337.4ZM116.7 463.5 L117.5 465.7 L119.7 465.7 L117.9 467.1 L118.6 469.3 L116.7 468 L114.8 469.3 L115.5 467.1 L113.7 465.7 L115.9 465.7ZM127.1 666.5 L127.9 668.6 L130.2 668.7 L128.3 670.1 L129 672.3 L127.1 671 L125.2 672.3 L125.9 670.1 L124.1 668.7 L126.3 668.6ZM269.1 464.4 L269.8 466.6 L272.1 466.6 L270.3 468 L270.9 470.2 L269.1 468.9 L267.2 470.2 L267.8 468 L266 466.6 L268.3 466.6ZM368.5 421.2 L369.3 423.4 L371.6 423.5 L369.8 424.8 L370.4 427 L368.5 425.7 L366.7 427 L367.3 424.8 L365.5 423.5 L367.8 423.4ZM421.8 430.4 L422.6 432.6 L424.8 432.7 L423 434 L423.7 436.2 L421.8 434.9 L419.9 436.2 L420.6 434 L418.8 432.7 L421 432.6Z"/>
</g>
<g font-family="'Liberation Sans',Arial,sans-serif" font-size="7.4" fill="#8a8a8a"><text x="445.5" y="104.5">Stamford</text><text x="558" y="174.5">Peterborough</text><text x="340" y="251">Corby</text><text x="461" y="255.5">Oundle</text><text x="307.5" y="324">Kettering &amp;</text><text x="291" y="332.5">Barton Seagrave</text><text x="422.5" y="325">Thrapston</text><text x="438" y="334.5">&amp; Islip</text><text x="311.5" y="418.5">Wellingborough</text><text x="402" y="416">Rushden &amp;</text><text x="388" y="424.7">Higham Ferrers</text><text x="93.5" y="456.5">Daventry</text><text x="221.5" y="461.5">Northampton</text><text x="174.5" y="575.5">Towcester</text><text x="95" y="663.5">Brackley</text></g>
<rect x="620" y="136" width="15" height="32" fill="#00c4fb"/><rect x="412" y="280" width="15" height="16" fill="#00c4fb"/><rect x="316" y="328" width="15" height="16" fill="#00c4fb"/><rect x="252" y="360" width="15" height="16" fill="#00c4fb"/><rect x="284" y="424" width="15" height="16" fill="#00c4fb"/><rect x="204" y="568" width="15" height="16" fill="#00c4fb"/><circle cx="163.5" cy="431.5" r="6.6" fill="#ffff00"/><circle cx="67.5" cy="639.5" r="6.6" fill="#ffff00"/><path fill="#f00000" d="M477.0 205.9h5v-5h3v5h5v4h-5v4.2h-3v-4.2h-5z"/><path fill="#f00000" d="M477.0 253.9h5v-5h3v5h5v4h-5v4.2h-3v-4.2h-5z"/><path fill="#f00000" d="M445.0 333.9h5v-5h3v5h5v4h-5v4.2h-3v-4.2h-5z"/>
<g id="grid" stroke="#000" fill="none" shape-rendering="crispEdges">
<g stroke-width="1" stroke-dasharray="3 3">
<path d="M59.5 33V724M139.5 33V724M219.5 33V724M299.5 33V724M379.5 33V724M539.5 33V724M619.5 33V724"/>
<path d="M4 87.5H673M4 247.5H673M4 327.5H673M4 407.5H673M4 487.5H673M4 567.5H673M4 647.5H673"/>
</g>
<path stroke-width="2" d="M3 31H674V725H3Z"/>
<path stroke-width="2" d="M460 31V725M3 168H674"/>
</g>


<text x="2.2" y="19.6" font-family="'Liberation Serif','Times New Roman',serif" font-size="24" fill="#000" stroke="#000" stroke-width="0.3" textLength="483.29" lengthAdjust="spacingAndGlyphs">70.065 Euphyia unangulata (Sharp-angled Carpet)</text>
<text x="678.03" y="63" font-family="'Liberation Serif','Times New Roman',serif" font-size="36" fill="#000" stroke="#000" stroke-width="0.3" textLength="67.86" lengthAdjust="spacingAndGlyphs">Key:</text>
<text x="708.98" y="89.5" font-family="'Liberation Serif','Times New Roman',serif" font-size="21" fill="#000" stroke="#000" stroke-width="0.3" textLength="188.24" lengthAdjust="spacingAndGlyphs">Records Prior to 1980</text>
<text x="709.68" y="120.0" font-family="'Liberation Serif','Times New Roman',serif" font-size="21" fill="#000" stroke="#000" stroke-width="0.3" textLength="178.69" lengthAdjust="spacingAndGlyphs">Records 1980 - 1999</text>
<text x="710.5" y="148.8" font-family="'Liberation Serif','Times New Roman',serif" font-size="21" fill="#000" stroke="#000" stroke-width="0.3" textLength="167.88" lengthAdjust="spacingAndGlyphs">Records Since 2000</text>
<text x="681.53" y="202.0" font-family="'Liberation Serif','Times New Roman',serif" font-size="36" fill="#000" stroke="#000" stroke-width="0.3" textLength="177.01" lengthAdjust="spacingAndGlyphs">Useful Data:</text>
<text x="680.99" y="228.5" font-family="'Liberation Serif','Times New Roman',serif" font-size="21" fill="#000" stroke="#000" stroke-width="0.3" textLength="194.17" lengthAdjust="spacingAndGlyphs">First Recorded in 1842</text>
<text x="681.5" y="255.3" font-family="'Liberation Serif','Times New Roman',serif" font-size="21" fill="#000" stroke="#000" stroke-width="0.3" textLength="190.5" lengthAdjust="spacingAndGlyphs">Last Recorded in 2014</text>
<text x="682.37" y="283.5" font-family="'Liberation Serif','Times New Roman',serif" font-size="21" fill="#000" stroke="#000" stroke-width="0.3" textLength="96.52" lengthAdjust="spacingAndGlyphs">15 Records</text>
<text x="682.91" y="311.6" font-family="'Liberation Serif','Times New Roman',serif" font-size="21" fill="#000" stroke="#000" stroke-width="0.3" textLength="88.55" lengthAdjust="spacingAndGlyphs">Status: LC</text>
<text x="682.13" y="394.3" font-family="'Liberation Serif','Times New Roman',serif" font-size="36" fill="#000" stroke="#000" stroke-width="0.3" textLength="193.01" lengthAdjust="spacingAndGlyphs">Flight Period:</text>
<text x="9.87" y="54.8" font-family="'Liberation Serif','Times New Roman',serif" font-size="24" fill="#e01818" stroke="#e01818" stroke-width="0.15" textLength="28.64" lengthAdjust="spacingAndGlyphs">SK</text>
<text x="462.8" y="54.8" font-family="'Liberation Serif','Times New Roman',serif" font-size="24" fill="#e01818" stroke="#e01818" stroke-width="0.15" textLength="25.01" lengthAdjust="spacingAndGlyphs">TF</text>
<text x="9.39" y="672.2" font-family="'Liberation Serif','Times New Roman',serif" font-size="24" fill="#e01818" stroke="#e01818" stroke-width="0.15" textLength="26.92" lengthAdjust="spacingAndGlyphs">SP</text>
<text x="466.4" y="671.2" font-family="'Liberation Serif','Times New Roman',serif" font-size="24" fill="#e01818" stroke="#e01818" stroke-width="0.15" textLength="28.91" lengthAdjust="spacingAndGlyphs">TL</text>
<text x="11.5" y="80.6" font-family="'Liberation Serif','Times New Roman',serif" font-size="20" fill="#000" stroke="#000" stroke-width="0.3">1</text>
<text x="11.2" y="160.6" font-family="'Liberation Serif','Times New Roman',serif" font-size="20" fill="#000" stroke="#000" stroke-width="0.3">0</text>
<text x="11.2" y="240.6" font-family="'Liberation Serif','Times New Roman',serif" font-size="20" fill="#000" stroke="#000" stroke-width="0.3">9</text>
<text x="11.2" y="320.6" font-family="'Liberation Serif','Times New Roman',serif" font-size="20" fill="#000" stroke="#000" stroke-width="0.3">8</text>
<text x="11.2" y="400.6" font-family="'Liberation Serif','Times New Roman',serif" font-size="20" fill="#000" stroke="#000" stroke-width="0.3">7</text>
<text x="11.2" y="480.6" font-family="'Liberation Serif','Times New Roman',serif" font-size="20" fill="#000" stroke="#000" stroke-width="0.3">6</text>
<text x="11.2" y="560.6" font-family="'Liberation Serif','Times New Roman',serif" font-size="20" fill="#000" stroke="#000" stroke-width="0.3">5</text>
<text x="12.2" y="640.6" font-family="'Liberation Serif','Times New Roman',serif" font-size="20" fill="#000" stroke="#000" stroke-width="0.3">4</text>
<text x="67.0" y="716.8" font-family="'Liberation Serif','Times New Roman',serif" font-size="20" fill="#000" stroke="#000" stroke-width="0.3">5</text>
<text x="147.0" y="716.8" font-family="'Liberation Serif','Times New Roman',serif" font-size="20" fill="#000" stroke="#000" stroke-width="0.3">6</text>
<text x="227.0" y="716.8" font-family="'Liberation Serif','Times New Roman',serif" font-size="20" fill="#000" stroke="#000" stroke-width="0.3">7</text>
<text x="307.0" y="716.8" font-family="'Liberation Serif','Times New Roman',serif" font-size="20" fill="#000" stroke="#000" stroke-width="0.3">8</text>
<text x="387.0" y="716.8" font-family="'Liberation Serif','Times New Roman',serif" font-size="20" fill="#000" stroke="#000" stroke-width="0.3">9</text>
<text x="467.0" y="716.8" font-family="'Liberation Serif','Times New Roman',serif" font-size="20" fill="#000" stroke="#000" stroke-width="0.3">0</text>
<text x="547.5" y="716.8" font-family="'Liberation Serif','Times New Roman',serif" font-size="20" fill="#000" stroke="#000" stroke-width="0.3">1</text>
<text x="627.0" y="716.8" font-family="'Liberation Serif','Times New Roman',serif" font-size="20" fill="#000" stroke="#000" stroke-width="0.3">2</text>
<rect x="687" y="78" width="13" height="13" fill="#00c4fb"/>
<circle cx="694.5" cy="114.5" r="6.6" fill="#ffff00"/>
<path d="M688 143.5H701M694.5 137V150" stroke="#ec1018" stroke-width="3" fill="none"/>

<g id="chart" shape-rendering="crispEdges" stroke="#000" fill="none" stroke-width="1"><rect x="682.5" y="407.5" width="438" height="318"/><path d="M683 688.5H1120"/><path d="M718.5 688V696M755.5 688V696M791.5 688V696M828.5 688V696M864.5 688V696M901.5 688V696M937.5 688V696M974.5 688V696M1010.5 688V696M1047.5 688V696M1083.5 688V696"/><rect x="842.5" y="568.5" width="8" height="120" fill="#fff"/><rect x="876.5" y="568.5" width="8" height="120" fill="#fff"/><rect x="909.5" y="568.5" width="9" height="120" fill="#fff"/><rect x="926.5" y="447.5" width="9" height="241" fill="#fff"/></g><g font-family="'Liberation Mono','Courier New',monospace" font-size="11.67" fill="#000"><text x="691" y="424">Records max of 2 in week 30</text><text x="691" y="708">Jan</text><text x="728" y="708">Feb</text><text x="764" y="708">Mar</text><text x="801" y="708">Apr</text><text x="837" y="708">May</text><text x="874" y="708">Jun</text><text x="910" y="708">Jly</text><text x="947" y="708">Aug</text><text x="983" y="708">Sep</text><text x="1020" y="708">Oct</text><text x="1056" y="708">Nov</text><text x="1093" y="708">Dec</text></g>
</svg>
</body>
</html>
